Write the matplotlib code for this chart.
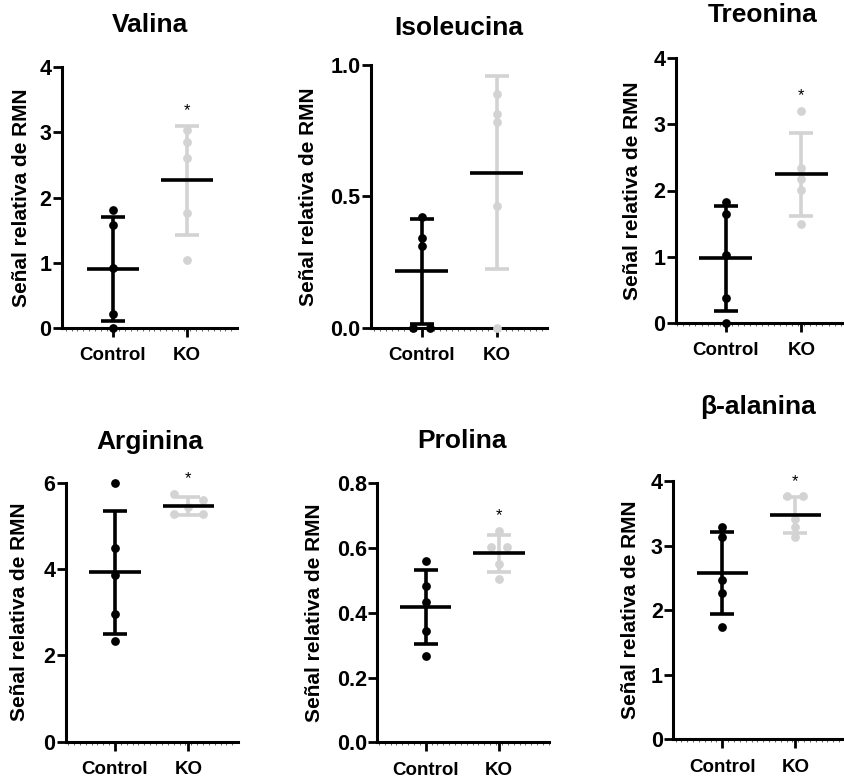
import numpy as np
import matplotlib.pyplot as plt
from matplotlib.ticker import MultipleLocator

plt.rcParams['font.family'] = ['Liberation Sans', 'DejaVu Sans']
plt.rcParams['font.weight'] = 'bold'

groups = ["Control", "KO"]
titles = ["Valina", "Isoleucina", "Treonina", "Arginina", "Prolina", "β-alanina"]
ylabel = "Señal relativa de RMN"

# values (n=5 per group)
control_vals = [
    [1.81, 1.57, 0.91, 0.21, 0.0],
    [0.42, 0.34, 0.31, 0.0, 0.0],
    [1.82, 1.65, 1.02, 0.37, 0.0],
    [6.0, 4.48, 3.86, 2.95, 2.34],
    [0.559, 0.484, 0.432, 0.344, 0.268],
    [3.28, 3.14, 2.47, 2.27, 1.74],
]
ko_vals = [
    [3.04, 2.86, 2.61, 1.76, 1.04],
    [0.888, 0.813, 0.782, 0.463, 0.0],
    [3.21, 2.34, 2.17, 2.01, 1.49],
    [5.73, 5.60, 5.44, 5.27, 5.27],
    [0.654, 0.604, 0.604, 0.551, 0.504],
    [3.76, 3.76, 3.41, 3.29, 3.13],
]
y_max = [4, 1.0, 4, 6, 0.8, 4]
y_step = [1, 0.5, 1, 2, 0.2, 1]
significant = [True, False, True, True, True, True]

# layout (pixels in the 844x780 figure): left, top, right, bottom, x of Control, x of KO
boxes = [
    (62, 67.3, 237, 327.7, 113, 187),
    (370.7, 65, 546.7, 327.7, 421.7, 496.7),
    (675.7, 58.3, 843, 322.7, 725.7, 801.3),
    (65.7, 482.7, 238, 741.7, 115, 188.3),
    (377.3, 483.3, 549, 742.3, 425.7, 499),
    (673.3, 481, 843, 739.3, 722.3, 795.3),
]
title_pos = [(150, 25), (459, 28), (763, 15), (150, 442), (462, 441), (758, 407)]
ylabel_x = [22, 309, 632, 20, 315, 630]

# horizontal spread of overlapping dots (panel, group) -> offsets
spread = {
    (1, 0): [0, 0, 0, -0.11, 0.11],
    (3, 1): [-0.2, 0.2, 0, -0.2, 0.2],
    (4, 1): [0, -0.11, 0.11, 0, 0],
    (5, 1): [-0.11, 0.11, 0, 0, 0],
}

colors = ["black", "#d3d3d3"]
W, H = 844, 780

fig = plt.figure(figsize=(W / 100, H / 100), dpi=100)

for i in range(6):
    left, top, right, bottom, xc, xk = boxes[i]
    ax = fig.add_axes([left / W, 1 - bottom / H, (right - left) / W, (bottom - top) / H])
    unit = xk - xc
    ax.set_xlim((left - xc) / unit, (right - xc) / unit)
    ax.set_ylim(0, y_max[i])

    for g, vals in enumerate([control_vals[i], ko_vals[i]]):
        vals = np.array(vals)
        offs = np.array(spread.get((i, g), [0] * len(vals)))
        m = vals.mean()
        sd = vals.std(ddof=1)
        ax.plot(g + offs, vals, 'o', ms=6.3, color=colors[g], mec='none',
                clip_on=False, zorder=3)
        ax.errorbar(g, m, yerr=sd, fmt='none', ecolor=colors[g], elinewidth=2.6,
                    capsize=8.5, capthick=2.6, clip_on=False, zorder=4)
        ax.hlines(m, g - 0.35, g + 0.35, color="black", lw=2.6, zorder=5)
        if g == 1 and significant[i]:
            top_val = max(vals.max(), m + sd)
            ax.annotate("*", xy=(1, top_val), xytext=(0, 11), textcoords='offset points',
                        ha='center', va='center', fontsize=12, fontweight='normal')

    ax.set_xticks([0, 1])
    ax.set_xticklabels(groups, fontsize=13.5)
    ax.set_yticks(np.arange(0, y_max[i] + y_step[i] / 2, y_step[i]))
    if y_step[i] < 1:
        ax.set_yticklabels([f"{v:.1f}" for v in ax.get_yticks()])
    ax.xaxis.set_minor_locator(MultipleLocator(0.08))
    ax.tick_params(axis='both', which='major', length=6.5, width=2, direction='out')
    ax.tick_params(axis='y', pad=1, labelsize=15.5)
    ax.tick_params(axis='x', pad=7.5)
    ax.tick_params(axis='x', which='minor', length=2, width=0.7, color='#666666')
    for s in ['top', 'right']:
        ax.spines[s].set_visible(False)
    for s in ['left', 'bottom']:
        ax.spines[s].set_linewidth(2.2)

    tx, ty = title_pos[i]
    fig.text(tx / W, 1 - ty / H, titles[i], ha='center', va='center', fontsize=19)
    fig.text(ylabel_x[i] / W, 1 - (top + bottom) / 2 / H, ylabel, rotation=90,
             ha='center', va='center', fontsize=15)

fig.savefig("out.png", dpi=100)
